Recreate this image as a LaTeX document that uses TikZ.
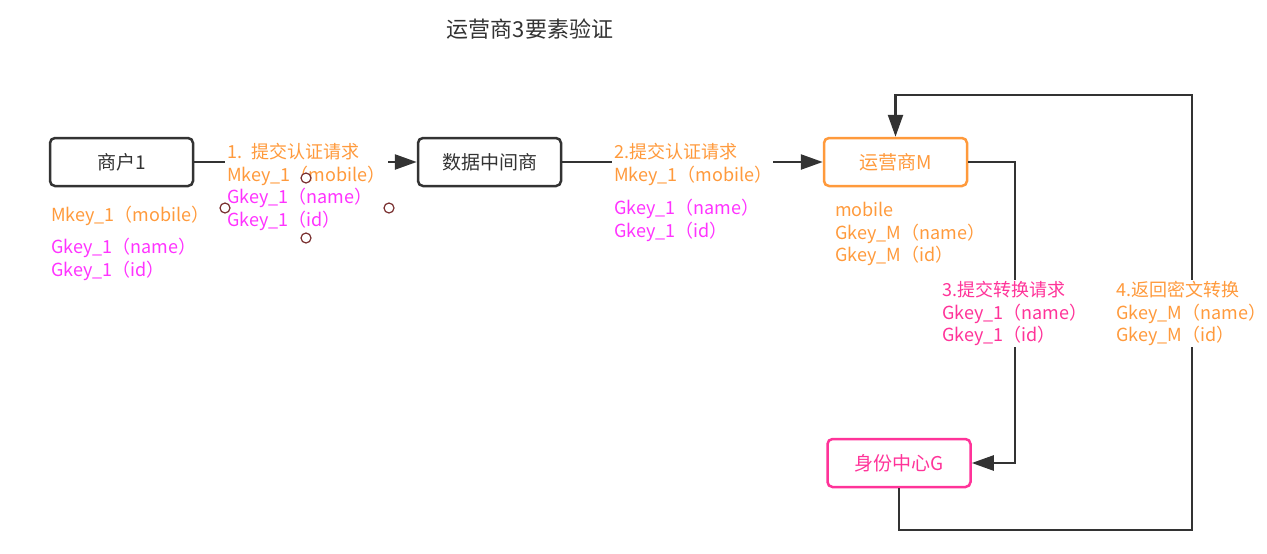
\documentclass[tikz,border=0pt]{standalone}
\usepackage{fontspec}
\setmainfont{Noto Sans CJK SC}
\usetikzlibrary{arrows.meta}
\definecolor{ink}{HTML}{333333}
\definecolor{orng}{HTML}{FF9A3C}
\definecolor{mag}{HTML}{FF33FF}
\definecolor{pnk}{HTML}{FF3399}
\definecolor{handle}{HTML}{7A3030}

\begin{document}
\begin{tikzpicture}[x=1pt,y=-1pt,
  box/.style={draw=ink,line width=2.5pt,rounded corners=5pt,minimum width=143pt,
    minimum height=48pt,font=\fontsize{19}{22}\selectfont,text=ink,fill=white},
  link/.style={draw=ink,line width=2.5pt,-{Triangle[length=22pt,width=15pt]}},
  lab/.style={font=\fontsize{18}{22.7}\selectfont,align=left,inner xsep=2pt,inner ysep=1pt},
  labw/.style={lab,fill=white},
  grip/.style={circle,draw=handle,line width=1.2pt,fill=white,minimum size=10pt,inner sep=0pt}]
  \useasboundingbox (0,0) rectangle (1267,554);

  % title
  \node[font=\fontsize{22}{26}\selectfont,text=ink] (title) at (530,29) {运营商3要素验证};

  % parties
  \node[box] (merchant) at (121.5,162) {商户1};
  \node[box] (broker) at (489.5,162) {数据中间商};
  \node[box,draw=orng,text=orng] (carrier) at (895.5,162) {运营商M};
  \node[box,draw=pnk,text=pnk] (idc) at (899,463) {身份中心G};

  % routing points of the side loops
  \coordinate (c3) at (1015,300);
  \coordinate (r1) at (1192,530);
  \coordinate (r2) at (1192,95);

  % connectors
  \draw[link] (merchant) -- (broker);
  \draw[link] (broker) -- (carrier);
  \draw[link] (carrier.east) -| (c3) |- (idc.east);
  \draw[link] (idc.south) |- (r1) -- (r2) -| (carrier.north);

  % step labels
  \node[labw,anchor=west,text width=159pt] (l1) at (225,187)
    {\textcolor{orng}{1. 提交认证请求}\\
     \textcolor{orng}{Mkey\_1（mobile）}\\
     \textcolor{mag}{Gkey\_1（name）}\\
     \textcolor{mag}{Gkey\_1（id）}};
  \node[labw,anchor=west,text width=157pt] (l2) at (612,164.5)
    {\textcolor{orng}{2.提交认证请求}\\
     \textcolor{orng}{Mkey\_1（mobile）}};
  \node[lab,anchor=west] (l2b) at (612,220.5)
    {\textcolor{mag}{Gkey\_1（name）}\\
     \textcolor{mag}{Gkey\_1（id）}};
  \node[labw,anchor=west,text=pnk] (l3) at (940,313.5)
    {3.提交转换请求\\ Gkey\_1（name）\\ Gkey\_1（id）};
  \node[labw,anchor=west,text=orng] (l4) at (1114,313.5)
    {4.返回密文转换\\ Gkey\_M（name）\\ Gkey\_M（id）};

  % keys held by each party
  \node[lab,anchor=west,text=orng] (k1) at (49,216) {Mkey\_1（mobile）};
  \node[lab,anchor=west,text=mag] (k2) at (49,259.5) {Gkey\_1（name）\\ Gkey\_1（id）};
  \node[lab,anchor=west,text=orng] (km) at (833,234) {mobile\\ Gkey\_M（name）\\ Gkey\_M（id）};

  % selection handles around the first label
  \node[grip] (h1) at (306,178) {};
  \node[grip] (h2) at (225,208) {};
  \node[grip] (h3) at (389,208) {};
  \node[grip] (h4) at (306,238) {};
\end{tikzpicture}
\end{document}
